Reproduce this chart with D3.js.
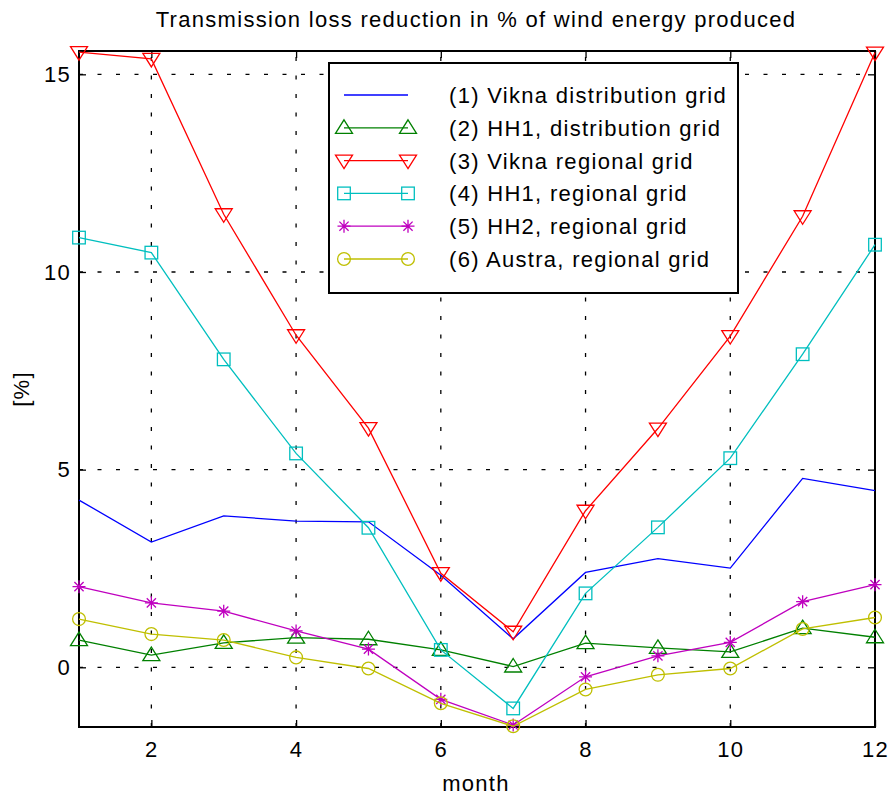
<!DOCTYPE html>
<html>
<head>
<meta charset="utf-8">
<script src="https://cdn.jsdelivr.net/npm/d3@7"></script>
<style>
  body { margin: 0; background: #fff; }
  svg { font-family: "Liberation Sans", Arial, sans-serif; }
  text { letter-spacing: 1.3px; }
</style>
</head>
<body>
<svg width="891" height="799"></svg>
<script>
const months = [1, 2, 3, 4, 5, 6, 7, 8, 9, 10, 11, 12];

const viknaDist   = [4.23, 3.17, 3.83, 3.70, 3.68, 2.33, 0.72, 2.40, 2.75, 2.51, 4.78, 4.47];
const hh1Dist     = [0.69, 0.31, 0.62, 0.75, 0.71, 0.44, 0.02, 0.61, 0.49, 0.39, 0.99, 0.76];
const viknaReg    = [15.56, 15.39, 11.46, 8.40, 6.05, 2.38, 0.90, 3.96, 6.04, 8.38, 11.41, 15.55];
const hh1Reg      = [10.87, 10.49, 7.79, 5.41, 3.53, 0.44, -1.04, 1.87, 3.54, 5.29, 7.92, 10.69];
const hh2Reg      = [2.04, 1.63, 1.42, 0.92, 0.46, -0.81, -1.46, -0.24, 0.29, 0.63, 1.66, 2.09];
const austraReg   = [1.22, 0.84, 0.69, 0.25, -0.03, -0.91, -1.49, -0.56, -0.19, -0.03, 0.97, 1.26];

const seriesNames = [
  "(1) Vikna distribution grid",
  "(2) HH1, distribution grid",
  "(3) Vikna regional grid",
  "(4) HH1, regional grid",
  "(5) HH2, regional grid",
  "(6) Austra, regional grid"
];
const xTicks = [2, 4, 6, 8, 10, 12];
const yTicks = [0, 5, 10, 15];

const series = [
  { name: seriesNames[0], values: viknaDist, color: "#0000ff", marker: null },
  { name: seriesNames[1], values: hh1Dist,   color: "#008000", marker: "up" },
  { name: seriesNames[2], values: viknaReg,  color: "#ff0000", marker: "down" },
  { name: seriesNames[3], values: hh1Reg,    color: "#00bfbf", marker: "square" },
  { name: seriesNames[4], values: hh2Reg,    color: "#bf00bf", marker: "star" },
  { name: seriesNames[5], values: austraReg, color: "#bfbf00", marker: "circle" }
];

const svg = d3.select("svg");
const plotLeft = 79, plotRight = 875, plotTop = 51, plotBottom = 727;
const fontSize = "22px";

const x = d3.scaleLinear().domain([1, 12]).range([plotLeft, plotRight]);
const y = d3.scaleLinear().domain([-1.51, 15.59]).range([plotBottom, plotTop]);

// grid
const grid = svg.append("g")
  .attr("stroke", "#000").attr("stroke-width", 1.3).attr("stroke-dasharray", "4,14.5");
grid.selectAll("line.vx").data(xTicks.filter(d => d < 12)).enter().append("line")
  .attr("x1", d => x(d)).attr("x2", d => x(d)).attr("y1", plotBottom).attr("y2", plotTop);
grid.selectAll("line.hy").data(yTicks).enter().append("line")
  .attr("x1", plotLeft).attr("x2", plotRight).attr("y1", d => y(d)).attr("y2", d => y(d));

// axes (ticks inward, box)
const xAxis = d3.axisBottom(x).tickValues(xTicks).tickSize(-7).tickPadding(14);
const yAxis = d3.axisLeft(y).tickValues(yTicks).tickSize(-7).tickPadding(8);
const xTop = d3.axisTop(x).tickValues(xTicks).tickSize(-7).tickFormat("");
const yRight = d3.axisRight(y).tickValues(yTicks).tickSize(-7).tickFormat("");

function styleAxis(g) {
  g.select(".domain").remove();
  g.selectAll(".tick line").attr("stroke", "#000").attr("stroke-width", 1.3);
  g.selectAll(".tick text").attr("fill", "#000").style("font-size", fontSize)
    .style("font-family", "'Liberation Sans', Arial, sans-serif");
}
svg.append("g").attr("transform", `translate(0,${plotBottom})`).call(xAxis).call(styleAxis);
svg.append("g").attr("transform", `translate(${plotLeft},0)`).call(yAxis).call(styleAxis);
svg.append("g").attr("transform", `translate(0,${plotTop})`).call(xTop).call(styleAxis);
svg.append("g").attr("transform", `translate(${plotRight},0)`).call(yRight).call(styleAxis);

svg.append("rect")
  .attr("x", plotLeft).attr("y", plotTop)
  .attr("width", plotRight - plotLeft).attr("height", plotBottom - plotTop)
  .attr("fill", "none").attr("stroke", "#000").attr("stroke-width", 2);

// markers
function drawMarker(g, type, color) {
  if (type === "up") {
    g.append("path").attr("d", "M0,-8L8.5,5.5L-8.5,5.5Z");
  } else if (type === "down") {
    g.append("path").attr("d", "M0,8L8.5,-5.5L-8.5,-5.5Z");
  } else if (type === "square") {
    g.append("rect").attr("x", -6.3).attr("y", -6.3).attr("width", 12.6).attr("height", 12.6);
  } else if (type === "circle") {
    g.append("circle").attr("r", 6.4);
  } else if (type === "star") {
    g.append("path").attr("d", "M0,-6.5V6.5M-6.5,0H6.5M-4.6,-4.6L4.6,4.6M-4.6,4.6L4.6,-4.6");
  }
  g.selectAll("*").attr("fill", "none").attr("stroke", color).attr("stroke-width", 1.3);
}

const line = d3.line().x((d, i) => x(months[i])).y(d => y(d));

series.forEach(s => {
  const g = svg.append("g");
  g.append("path").attr("d", line(s.values))
    .attr("fill", "none").attr("stroke", s.color).attr("stroke-width", 1.3);
  if (s.marker) {
    s.values.forEach((v, i) => {
      const m = g.append("g").attr("transform", `translate(${x(months[i])},${y(v)})`);
      drawMarker(m, s.marker, s.color);
    });
  }
});

// legend
const legend = svg.append("g");
legend.append("rect")
  .attr("x", 329).attr("y", 63).attr("width", 409).attr("height", 230)
  .attr("fill", "#fff").attr("stroke", "#000").attr("stroke-width", 2);
series.forEach((s, i) => {
  const ly = 95 + i * 32.8;
  const row = legend.append("g");
  row.append("line").attr("x1", 344).attr("x2", 408).attr("y1", ly).attr("y2", ly)
    .attr("stroke", s.color).attr("stroke-width", 1.3);
  if (s.marker) {
    [344, 408].forEach(mx => {
      drawMarker(row.append("g").attr("transform", `translate(${mx},${ly})`), s.marker, s.color);
    });
  }
  row.append("text").attr("x", 449).attr("y", ly).attr("dy", "0.36em")
    .style("font-size", fontSize).text(s.name);
});

// titles
svg.append("text").attr("x", 476).attr("y", 27).attr("text-anchor", "middle")
  .style("font-size", fontSize).text("Transmission loss reduction in % of wind energy produced");
svg.append("text").attr("x", 476).attr("y", 791).attr("text-anchor", "middle")
  .style("font-size", fontSize).text("month");
svg.append("text").attr("transform", "translate(29,389) rotate(-90)").attr("text-anchor", "middle")
  .style("font-size", fontSize).text("[%]");
</script>
</body>
</html>
